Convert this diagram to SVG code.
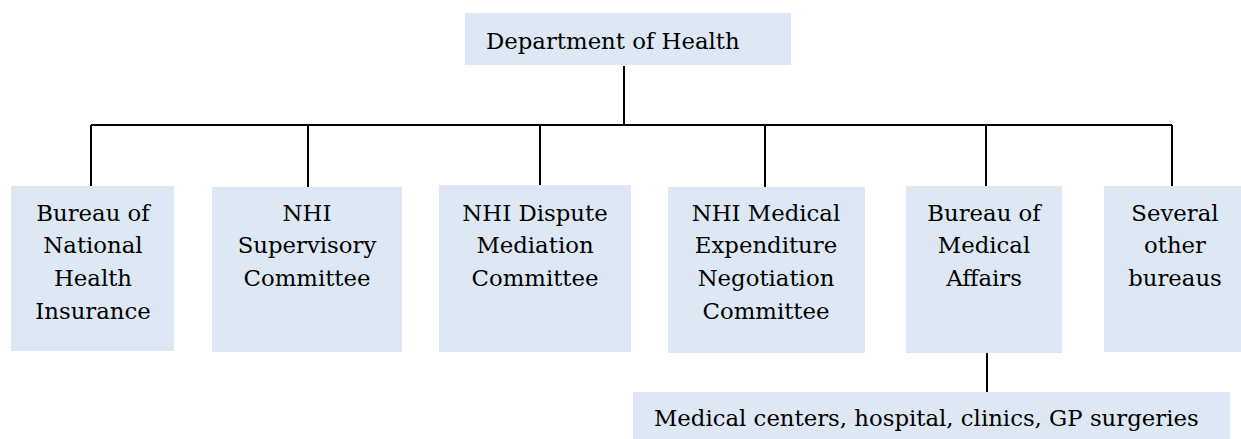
<svg xmlns="http://www.w3.org/2000/svg" width="1241" height="439" viewBox="0 0 1241 439">
<style>
.box{fill:#dde8f4;stroke:none}
.t{font-family:"DejaVu Serif","Liberation Serif",serif;font-size:22.8px;fill:#000}
.c{text-anchor:middle}
.ln{stroke:#000;stroke-width:2;fill:none}
</style>
<rect width="1241" height="439" fill="#fff"/>
<g id="connectors">
<path class="ln" d="M624 66V125M91 125H1172M91 125V187M308 125V187M540 125V187M765 125V187M986 125V187M1172 125V187M987 353V392"/>
</g>
<g id="dept">
<rect class="box" x="465" y="13" width="326" height="52"/>
<text class="t" x="486" y="49">Department of Health</text>
</g>
<g id="bnhi">
<rect class="box" x="11" y="186" width="163" height="165"/>
<text class="t c" x="93" y="220.5">Bureau of<tspan x="93" dy="32.7">National</tspan><tspan x="93" dy="32.7">Health</tspan><tspan x="93" dy="32.7">Insurance</tspan></text>
</g>
<g id="nhisc">
<rect class="box" x="212" y="187" width="190" height="165"/>
<text class="t c" x="307" y="220.5">NHI<tspan x="307" dy="32.7">Supervisory</tspan><tspan x="307" dy="32.7">Committee</tspan></text>
</g>
<g id="nhidmc">
<rect class="box" x="439" y="185" width="192" height="167"/>
<text class="t c" x="535" y="220.5">NHI Dispute<tspan x="535" dy="32.7">Mediation</tspan><tspan x="535" dy="32.7">Committee</tspan></text>
</g>
<g id="nhimenc">
<rect class="box" x="668" y="187" width="197" height="166"/>
<text class="t c" x="766" y="220.5">NHI Medical<tspan x="766" dy="32.7">Expenditure</tspan><tspan x="766" dy="32.7">Negotiation</tspan><tspan x="766" dy="32.7">Committee</tspan></text>
</g>
<g id="bma">
<rect class="box" x="906" y="186" width="156" height="167"/>
<text class="t c" x="984" y="220.5">Bureau of<tspan x="984" dy="32.7">Medical</tspan><tspan x="984" dy="32.7">Affairs</tspan></text>
</g>
<g id="others">
<rect class="box" x="1104" y="186" width="137" height="166"/>
<text class="t c" x="1175" y="220.5">Several<tspan x="1175" dy="32.7">other</tspan><tspan x="1175" dy="32.7">bureaus</tspan></text>
</g>
<g id="facilities">
<rect class="box" x="633" y="392" width="597" height="47"/>
<text class="t" x="654" y="425.5">Medical centers, hospital, clinics, GP surgeries</text>
</g>
</svg>
